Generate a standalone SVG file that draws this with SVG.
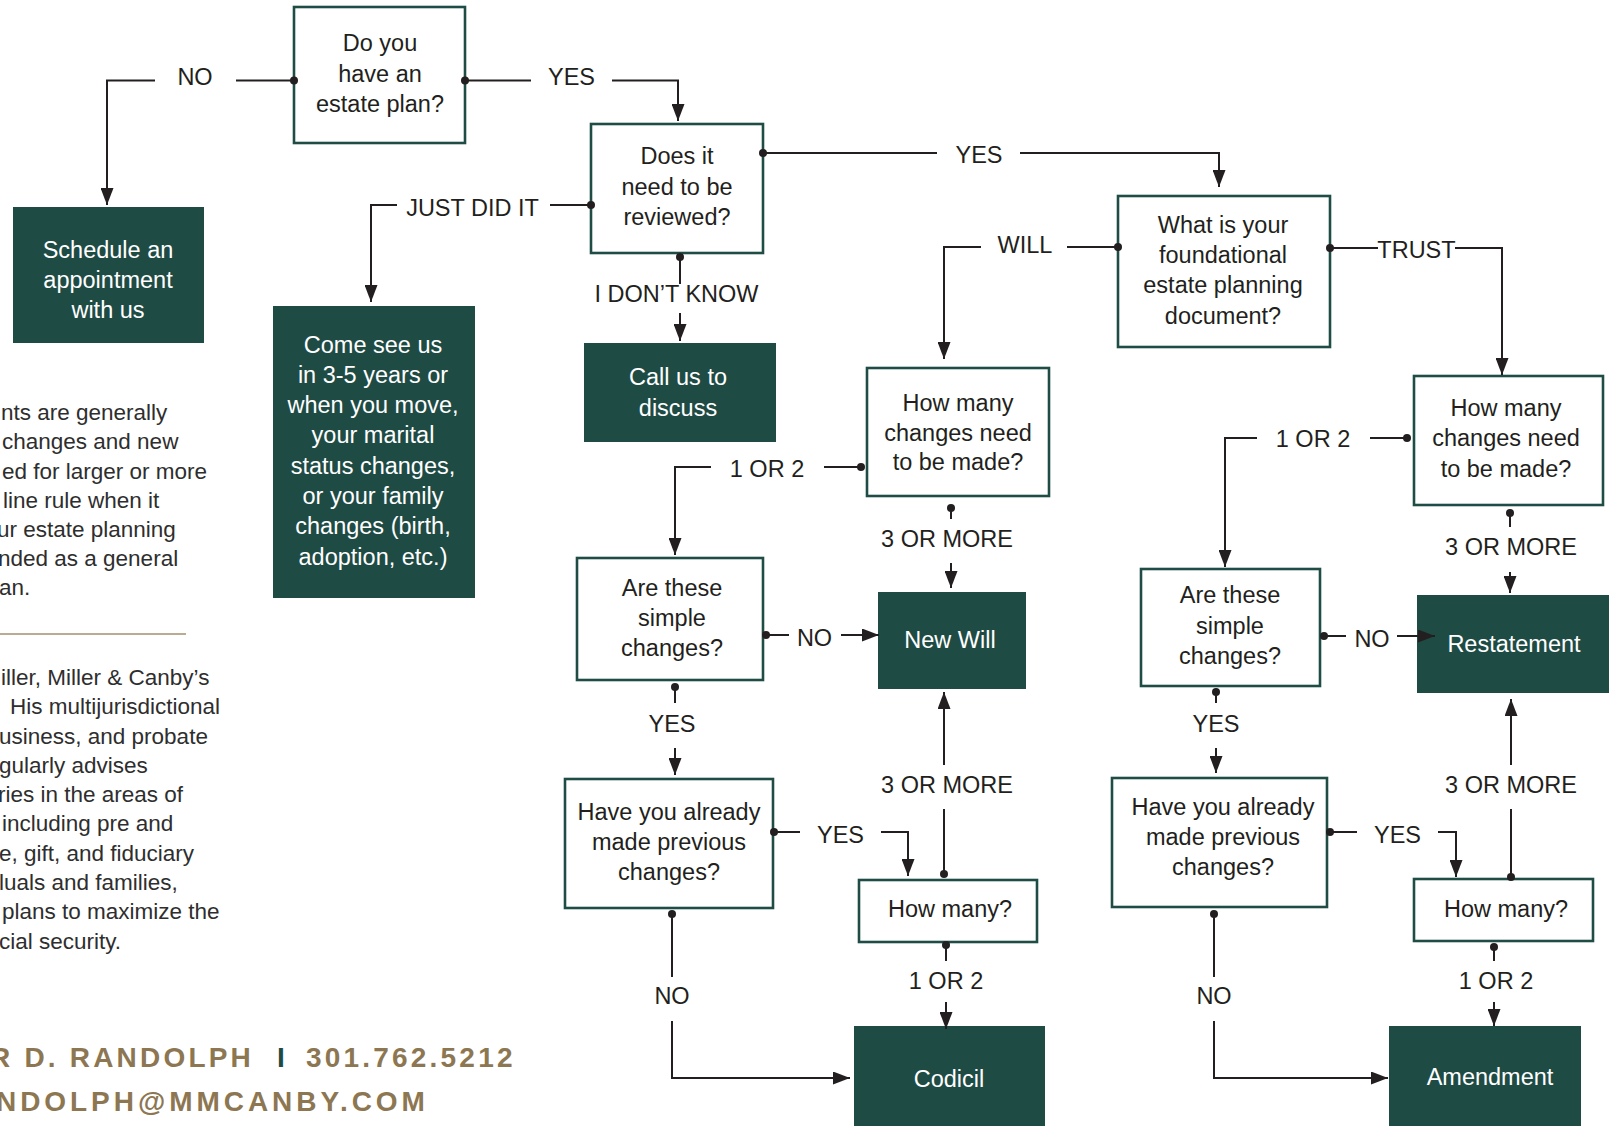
<svg xmlns="http://www.w3.org/2000/svg" width="1614" height="1126" viewBox="0 0 1614 1126">
<style>
text{font-family:"Liberation Sans",Arial,Helvetica,sans-serif}
.q{font-size:23.5px;fill:#231f20;text-anchor:middle}
.w{font-size:23.5px;fill:#ffffff;text-anchor:middle}
.l{font-size:23.5px;fill:#231f20;text-anchor:middle}
.b{font-size:22.5px;fill:#2e2e2e}
.f{font-size:28px;font-weight:bold;fill:#8c7752;letter-spacing:3.2px}
.qb{fill:#ffffff;stroke:#1f4d46;stroke-width:2.6}
.gb{fill:#1f4b45}
.c path{fill:none;stroke:#231f20;stroke-width:2}
.s{marker-start:url(#dot)}
.e{marker-end:url(#ah)}
</style>
<defs>
<marker id="ah" markerWidth="17" markerHeight="13" refX="17" refY="6.5" orient="auto" markerUnits="userSpaceOnUse"><path d="M0,0 L17,6.5 L0,13 Z" fill="#231f20"/></marker>
<marker id="dot" markerWidth="9" markerHeight="9" refX="4.5" refY="4.5" markerUnits="userSpaceOnUse"><circle cx="4.5" cy="4.5" r="4" fill="#231f20"/></marker>
</defs>
<rect width="1614" height="1126" fill="#ffffff"/>

<g id="sidebar">
<text class="b" x="1" y="420">nts are generally</text>
<text class="b" x="2" y="449">changes and new</text>
<text class="b" x="2" y="479">ed for larger or more</text>
<text class="b" x="3" y="508">line rule when it</text>
<text class="b" x="-3" y="537">ur estate planning</text>
<text class="b" x="-2" y="566">nded as a general</text>
<text class="b" x="-1" y="595">an.</text>
<line x1="0" y1="634" x2="186" y2="634" stroke="#a38f6c" stroke-width="1.6"/>
<text class="b" x="1" y="685">iller, Miller &amp; Canby’s</text>
<text class="b" x="10" y="714">His multijurisdictional</text>
<text class="b" x="-1" y="744">usiness, and probate</text>
<text class="b" x="-1" y="773">gularly advises</text>
<text class="b" x="-2" y="802">ries in the areas of</text>
<text class="b" x="2" y="831">including pre and</text>
<text class="b" x="-1" y="861">e, gift, and fiduciary</text>
<text class="b" x="-1" y="890">luals and families,</text>
<text class="b" x="2" y="919">plans to maximize the</text>
<text class="b" x="-1" y="949">cial security.</text>
<text class="f" x="-10" y="1067">R D. RANDOLPH</text>
<text class="f" x="277" y="1067" style="fill:#1f4b45">I</text>
<text class="f" x="306" y="1067">301.762.5212</text>
<text class="f" x="-4" y="1111" style="letter-spacing:3.95px">NDOLPH@MMCANBY.COM</text>
</g>

<g id="n1"><rect class="qb" x="294" y="7" width="171" height="136"/>
<text class="q" x="380" y="51">Do you</text><text class="q" x="380" y="81.5">have an</text><text class="q" x="380" y="111.5">estate plan?</text></g>

<g id="n-schedule"><rect class="gb" x="13" y="207" width="191" height="136"/>
<text class="w" x="108" y="258">Schedule an</text><text class="w" x="108" y="288">appointment</text><text class="w" x="108" y="318">with us</text></g>

<g id="n2"><rect class="qb" x="591" y="124" width="172" height="129"/>
<text class="q" x="677" y="164">Does it</text><text class="q" x="677" y="195">need to be</text><text class="q" x="677" y="225">reviewed?</text></g>

<g id="n-come"><rect class="gb" x="273" y="306" width="202" height="292"/>
<text class="w" x="373" y="353">Come see us</text>
<text class="w" x="373" y="383">in 3-5 years or</text>
<text class="w" x="373" y="413">when you move,</text>
<text class="w" x="373" y="443">your marital</text>
<text class="w" x="373" y="474">status changes,</text>
<text class="w" x="373" y="504">or your family</text>
<text class="w" x="373" y="534">changes (birth,</text>
<text class="w" x="373" y="565">adoption, etc.)</text></g>

<g id="n-call"><rect class="gb" x="584" y="343" width="192" height="99"/>
<text class="w" x="678" y="385">Call us to</text><text class="w" x="678" y="416">discuss</text></g>

<g id="n3"><rect class="qb" x="1118" y="196" width="212" height="151"/>
<text class="q" x="1223" y="233">What is your</text><text class="q" x="1223" y="263">foundational</text><text class="q" x="1223" y="293">estate planning</text><text class="q" x="1223" y="324">document?</text></g>

<g id="n4"><rect class="qb" x="867" y="368" width="182" height="128"/>
<text class="q" x="958" y="411">How many</text><text class="q" x="958" y="440.5">changes need</text><text class="q" x="958" y="470">to be made?</text></g>

<g id="n5"><rect class="qb" x="1414" y="376" width="189" height="129"/>
<text class="q" x="1506" y="416">How many</text><text class="q" x="1506" y="446">changes need</text><text class="q" x="1506" y="476.5">to be made?</text></g>

<g id="n6"><rect class="qb" x="577" y="558" width="186" height="122"/>
<text class="q" x="672" y="596">Are these</text><text class="q" x="672" y="626">simple</text><text class="q" x="672" y="656">changes?</text></g>

<g id="n-newwill"><rect class="gb" x="878" y="592" width="148" height="97"/>
<text class="w" x="950" y="648">New Will</text></g>

<g id="n7"><rect class="qb" x="565" y="779" width="208" height="129"/>
<text class="q" x="669" y="820">Have you already</text><text class="q" x="669" y="850">made previous</text><text class="q" x="669" y="880">changes?</text></g>

<g id="n-howmany1"><rect class="qb" x="859" y="880" width="178" height="62"/>
<text class="q" x="950" y="917">How many?</text></g>

<g id="n-codicil"><rect class="gb" x="854" y="1026" width="191" height="102"/>
<text class="w" x="949" y="1087">Codicil</text></g>

<g id="n8"><rect class="qb" x="1141" y="569" width="179" height="117"/>
<text class="q" x="1230" y="603">Are these</text><text class="q" x="1230" y="634">simple</text><text class="q" x="1230" y="664">changes?</text></g>

<g id="n-restatement"><rect class="gb" x="1417" y="595" width="192" height="98"/>
<text class="w" x="1514" y="652">Restatement</text></g>

<g id="n9"><rect class="qb" x="1112" y="778" width="215" height="129"/>
<text class="q" x="1223" y="815">Have you already</text><text class="q" x="1223" y="845">made previous</text><text class="q" x="1223" y="875">changes?</text></g>

<g id="n-howmany2"><rect class="qb" x="1414" y="879" width="179" height="62"/>
<text class="q" x="1506" y="917">How many?</text></g>

<g id="n-amendment"><rect class="gb" x="1389" y="1026" width="192" height="102"/>
<text class="w" x="1490" y="1085">Amendment</text></g>

<g id="connectors" class="c">
<path class="s" d="M294,80.5 H236"/><path class="e" d="M155,80.5 H107 V205"/>
<path class="s" d="M465,80.5 H531"/><path class="e" d="M612,80.5 H678 V121"/>
<path class="s" d="M591,205 H550"/><path class="e" d="M397,205 H371 V302"/>
<path class="s" d="M680,257 V284"/><path class="e" d="M680,313 V341"/>
<path class="s" d="M763,153 H937"/><path class="e" d="M1020,153 H1219 V187"/>
<path class="s" d="M1118,247 H1067"/><path class="e" d="M981,247 H944 V359"/>
<path class="s" d="M1330,248 H1378"/><path class="e" d="M1455,248 H1502 V375"/>
<path class="s" d="M861,467 H824"/><path class="e" d="M711,467 H675 V555"/>
<path class="s" d="M951,508 V519"/><path class="e" d="M951,563 V588"/>
<path class="s" d="M766,635 H789"/><path class="e" d="M841,635 H879"/>
<path class="s" d="M675,687 V703"/><path class="e" d="M675,748 V775"/>
<path class="s" d="M774,832 H800"/><path class="e" d="M881,832 H908 V876"/>
<path class="s" d="M944,874 V809"/><path class="e" d="M944,765 V692"/>
<path class="s" d="M946,945 V961"/><path class="e" d="M946,1002 V1029"/>
<path class="s" d="M672,914 V977"/><path class="e" d="M672,1021 V1078 H850"/>
<path class="s" d="M1407,438 H1370"/><path class="e" d="M1257,438 H1225 V567"/>
<path class="s" d="M1510,513 V527"/><path class="e" d="M1510,572 V593"/>
<path class="s" d="M1324,636 H1346"/><path class="e" d="M1397,636 H1435"/>
<path class="s" d="M1216,692 V703"/><path class="e" d="M1216,748 V773"/>
<path class="s" d="M1330,832 H1357"/><path class="e" d="M1438,832 H1456 V877"/>
<path class="s" d="M1511,877 V809"/><path class="e" d="M1511,765 V699"/>
<path class="s" d="M1494,947 V961"/><path class="e" d="M1494,1002 V1026"/>
<path class="s" d="M1214,914 V977"/><path class="e" d="M1214,1021 V1078 H1388"/>
</g>

<g id="labels">
<text class="l" x="195" y="85">NO</text>
<text class="l" x="571.5" y="85">YES</text>
<text class="l" x="472.5" y="216">JUST DID IT</text>
<text class="l" x="676.5" y="302">I DON’T KNOW</text>
<text class="l" x="979" y="163">YES</text>
<text class="l" x="1025" y="253">WILL</text>
<text class="l" x="1416.5" y="258">TRUST</text>
<text class="l" x="767" y="477">1 OR 2</text>
<text class="l" x="947" y="547">3 OR MORE</text>
<text class="l" x="814.5" y="646">NO</text>
<text class="l" x="672" y="732">YES</text>
<text class="l" x="840.5" y="843">YES</text>
<text class="l" x="947" y="793">3 OR MORE</text>
<text class="l" x="946" y="989">1 OR 2</text>
<text class="l" x="672" y="1004">NO</text>
<text class="l" x="1313" y="447">1 OR 2</text>
<text class="l" x="1511" y="555">3 OR MORE</text>
<text class="l" x="1372" y="647">NO</text>
<text class="l" x="1216" y="732">YES</text>
<text class="l" x="1397.5" y="843">YES</text>
<text class="l" x="1511" y="793">3 OR MORE</text>
<text class="l" x="1496" y="989">1 OR 2</text>
<text class="l" x="1214" y="1004">NO</text>
</g>
</svg>
